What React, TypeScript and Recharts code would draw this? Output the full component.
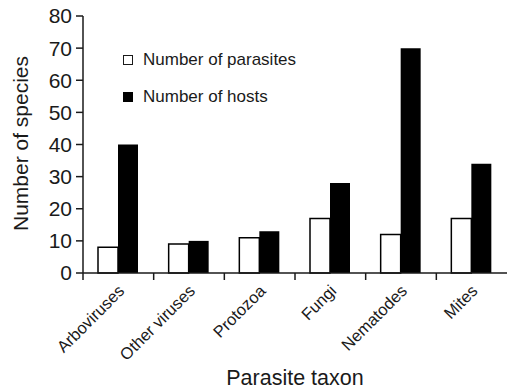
import React from 'react'
import { BarChart, Bar, XAxis, YAxis } from 'recharts'

const taxa = ['Arboviruses', 'Other viruses', 'Protozoa', 'Fungi', 'Nematodes', 'Mites']
const parasites = [8, 9, 11, 17, 12, 17]
const hosts = [40, 10, 13, 28, 70, 34]
const yTicks = [0, 10, 20, 30, 40, 50, 60, 70, 80]

const rows = taxa.map((t, i) => ({ taxon: t, parasites: parasites[i], hosts: hosts[i] }))

const FONT = '"Liberation Sans", Arial, Helvetica, sans-serif'
const INK = '#1a1a1a'

// category ticks sit on the band edges, labels rotated under the centre
const TaxonTick = (props: any) => {
  const { x, y, payload } = props
  const half = payload?.offset ?? 35
  return (
    <g>
      <line x1={x - half} y1={y - 8} x2={x - half} y2={y - 1} stroke={INK} strokeWidth={1.5} />
      <text
        x={x + 7}
        y={y + 11}
        transform={`rotate(-45, ${x + 7}, ${y + 11})`}
        textAnchor="end"
        fontSize={16.5}
        fontFamily={FONT}
        fill={INK}
      >
        {payload.value}
      </text>
    </g>
  )
}

const YTitle = (props: any) => {
  const vb = props.viewBox || { x: 0, y: 16, width: 83, height: 257 }
  const cx = vb.x + 28
  const cy = vb.y + vb.height / 2 - 1
  return (
    <text x={cx} y={cy} transform={`rotate(-90, ${cx}, ${cy})`} textAnchor="middle" fontSize={21} fontFamily={FONT} fill={INK}>
      Number of species
    </text>
  )
}

const LegendBox = () => (
  <div style={{ position: 'absolute', left: 123, top: 50, fontFamily: FONT, fontSize: 17, color: INK, lineHeight: '20px' }}>
    <div style={{ display: 'flex', alignItems: 'center', height: 20 }}>
      <span style={{ width: 8, height: 8, border: `1.3px solid ${INK}`, background: '#fff', marginRight: 10 }} />
      Number of parasites
    </div>
    <div style={{ display: 'flex', alignItems: 'center', height: 20, marginTop: 17 }}>
      <span style={{ width: 10, height: 10, background: '#000', marginRight: 10 }} />
      Number of hosts
    </div>
  </div>
)

export default function App() {
  return (
    <div style={{ position: 'absolute', left: 0, top: 0, width: 507, height: 391, background: '#fff' }}>
      <BarChart
        width={507}
        height={391}
        data={rows}
        margin={{ top: 16, right: 0, left: 0, bottom: 0 }}
        barGap={0}
        barSize={20}
      >
        <XAxis
          dataKey="taxon"
          height={118}
          tickLine={false}
          stroke={INK}
          strokeWidth={1.5}
          interval={0}
          tick={<TaxonTick />}
          label={{ value: 'Parasite taxon', position: 'insideBottom', offset: 6, fontSize: 21.5, fontFamily: FONT, fill: INK }}
        />
        <YAxis
          width={83}
          domain={[0, 80]}
          ticks={yTicks}
          interval={0}
          tickSize={7}
          tickMargin={4}
          stroke={INK}
          strokeWidth={1.5}
          tick={{ fontSize: 21, fontFamily: FONT, fill: INK }}
          label={<YTitle />}
        />
        <Bar dataKey="parasites" fill="#fff" stroke="#000" strokeWidth={1.5} isAnimationActive={false} />
        <Bar dataKey="hosts" fill="#000" isAnimationActive={false} />
      </BarChart>
      <LegendBox />
    </div>
  )
}
